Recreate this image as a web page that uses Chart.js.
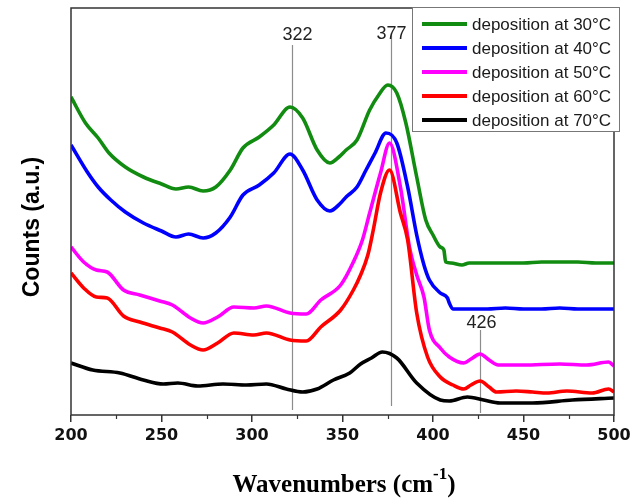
<!DOCTYPE html>
<html>
<head>
<meta charset="utf-8">
<script src="https://cdn.jsdelivr.net/npm/chart.js@4.4.1/dist/chart.umd.min.js"></script>
<style>
  html, body { margin: 0; padding: 0; background: #fff; }
  #wrap { width: 642px; height: 498px; }
</style>
</head>
<body>
<div id="wrap"><canvas id="spectra" width="642" height="498"></canvas></div>
<script>
// Raman spectra, counts in arbitrary units
const seriesLabels = ['deposition at 30°C', 'deposition at 40°C', 'deposition at 50°C', 'deposition at 60°C', 'deposition at 70°C'];

const greenX = [200,208,215,221,230,240,250,258,265,273,280,288,295,304,312,321,328,336,343,348,352,358,365,370,375,380,385,391,396,400,404,406,407,410,416,420,430,440,450,460,470,480,490,500];
const greenY = [318,292,277,262,248,238,231,226,228,224,228,245,267,278,290,308,297,265,252,258,265,275,305,320,330,322,292,238,195,180,168,165,153,152,150,152,152,152,152,153,153,153,152,152];

const blueX = [200,209,215,222,230,240,250,258,265,273,280,288,295,304,312,321,328,336,343,349,352,358,363,368,374,380,386,391,395,398,404,408,409,411,420,430,440,450,460,470,480,490,500];
const blueY = [270,243,228,215,203,192,184,178,181,177,182,198,220,230,242,261,245,215,204,212,218,228,245,262,282,272,228,180,150,135,122,117,112,106,106,106,107,106,106,107,106,106,106];

const magentaX = [200,207,214,220,229,238,249,256,266,273,281,290,301,308,321,330,338,349,356,361,365,371,376,382,387,391,395,398,404,409,417,421,426,431,436,450,470,485,497,500];
const magentaY = [168,153,145,143,125,120,114,110,97,92,98,108,107,109,102,101,115,130,153,175,202,242,272,228,168,140,118,85,67,58,52,56,61,55,50,50,51,50,53,49];

const redX = [200,207,214,220,229,238,249,256,266,273,281,290,301,308,321,330,338,349,356,360,364,367,371,376,382,386,391,397,404,411,417,421,426,431,435,446,455,463,474,488,497,500];
const redY = [142,127,118,117,99,93,87,83,70,65,72,82,80,82,75,74,88,105,125,140,160,185,222,245,202,175,102,58,38,30,26,30,34,28,23,24,23,22,24,22,26,23];

const blackX = [200,212,227,240,251,259,270,284,297,308,319,328,336,345,354,360,366,372,380,391,404,409,419,428,437,455,477,500];
const blackY = [52,45,42,35,31,32,29,31,30,31,26,23,26,35,42,51,57,63,57,32,15,14,18,15,12,12,15,17];

// marked peaks (cm-1) and the span of their guide lines in count units
const peakPos = [322, 377, 426];
const peakTop = [370, 382, 85];
const peakBottom = [5, 9, 2];
const peakLabelY = [380, 381, 92];

const xTicks = [200, 250, 300, 350, 400, 450, 500];
const xMinorTicks = [225, 275, 325, 375, 425, 475];

const lineColors = ['#118c11', '#0000ff', '#ff00ff', '#ff0000', '#000000'];

function toPoints(xs, ys) {
    return xs.map((x, i) => ({ x: x, y: ys[i] }));
}

const allX = [greenX, blueX, magentaX, redX, blackX];
const allY = [greenY, blueY, magentaY, redY, blackY];

const datasets = seriesLabels.map((label, i) => ({
    label: label,
    data: toPoints(allX[i], allY[i]),
    borderColor: lineColors[i],
    backgroundColor: lineColors[i],
    borderWidth: 3.6,
    pointRadius: 0,
    fill: false,
    cubicInterpolationMode: 'monotone',
    order: seriesLabels.length - i   // later series drawn on top
}));

const decorPlugin = {
    id: 'decor',
    beforeDatasetsDraw(chart) {
        const { ctx, scales: { x, y } } = chart;
        ctx.save();
        ctx.strokeStyle = '#8c8c8c';
        ctx.lineWidth = 1.2;
        ctx.fillStyle = '#222';
        ctx.font = '18px "Liberation Sans", Arial, sans-serif';
        ctx.textAlign = 'center';
        ctx.textBaseline = 'middle';
        const shift = [5, 0, 1];
        peakPos.forEach((p, i) => {
            const px = Math.round(x.getPixelForValue(p)) + 0.5;
            ctx.beginPath();
            ctx.moveTo(px, y.getPixelForValue(peakTop[i]));
            ctx.lineTo(px, y.getPixelForValue(peakBottom[i]));
            ctx.stroke();
            ctx.fillText(String(p), px + shift[i], y.getPixelForValue(peakLabelY[i]));
        });
        ctx.restore();
    },
    afterDraw(chart) {
        const { ctx, chartArea: a, scales: { x } } = chart;
        ctx.save();

        // frame round the plot
        ctx.strokeStyle = '#333';
        ctx.lineWidth = 1.5;
        ctx.strokeRect(a.left, a.top, a.right - a.left, a.bottom - a.top);

        // minor ticks
        ctx.lineWidth = 1.2;
        xMinorTicks.forEach(v => {
            const px = Math.round(x.getPixelForValue(v)) + 0.5;
            ctx.beginPath();
            ctx.moveTo(px, a.bottom);
            ctx.lineTo(px, a.bottom + 4);
            ctx.stroke();
        });

        // y title
        ctx.fillStyle = '#000';
        ctx.save();
        ctx.translate(33, 227);
        ctx.rotate(-Math.PI / 2);
        ctx.font = 'bold 23px "Liberation Sans", Arial, sans-serif';
        ctx.textAlign = 'center';
        ctx.textBaseline = 'middle';
        ctx.fillText('Counts (a.u.)', 0, 0);
        ctx.restore();

        // x title with superscript
        const mainFont = 'bold 25px "Liberation Serif", "Times New Roman", serif';
        const supFont = 'bold 17px "Liberation Serif", "Times New Roman", serif';
        ctx.textAlign = 'left';
        ctx.textBaseline = 'alphabetic';
        ctx.font = mainFont;
        const t1 = 'Wavenumbers (cm', t3 = ')';
        const w1 = ctx.measureText(t1).width, w3 = ctx.measureText(t3).width;
        ctx.font = supFont;
        const t2 = '-1';
        const w2 = ctx.measureText(t2).width;
        let sx = 344 - (w1 + w2 + w3) / 2;
        const base = 492;
        ctx.font = mainFont;
        ctx.fillText(t1, sx, base);
        ctx.font = supFont;
        ctx.fillText(t2, sx + w1, base - 13);
        ctx.font = mainFont;
        ctx.fillText(t3, sx + w1 + w2, base);

        // legend box
        ctx.fillStyle = '#fff';
        ctx.fillRect(412.5, 7.5, 207, 124);
        ctx.strokeStyle = '#777';
        ctx.lineWidth = 1;
        ctx.strokeRect(412.5, 7.5, 207, 124);
        ctx.font = '17px "Liberation Sans", Arial, sans-serif';
        ctx.textBaseline = 'middle';
        chart.data.datasets.forEach((ds, i) => {
            const ry = 24 + i * 24;
            ctx.strokeStyle = ds.borderColor;
            ctx.lineWidth = 4;
            ctx.beginPath();
            ctx.moveTo(422, ry);
            ctx.lineTo(467, ry);
            ctx.stroke();
            ctx.fillStyle = '#1a1a1a';
            ctx.fillText(ds.label, 472, ry + 1);
        });
        ctx.restore();
    }
};

const chart = new Chart(document.getElementById('spectra').getContext('2d'), {
    type: 'line',
    data: { datasets: datasets },
    options: {
        responsive: false,
        animation: false,
        devicePixelRatio: 1,
        events: [],
        layout: { padding: { top: 8, right: 28, left: 0, bottom: 0 } },
        plugins: {
            legend: { display: false },
            tooltip: { enabled: false }
        },
        scales: {
            x: {
                type: 'linear',
                min: 200,
                max: 500,
                afterFit: s => { s.height = 83; },
                afterBuildTicks: s => { s.ticks = xTicks.map(v => ({ value: v })); },
                border: { display: false },
                grid: {
                    display: true,
                    drawOnChartArea: false,
                    drawTicks: true,
                    tickLength: 7,
                    color: '#333',
                    lineWidth: 1.5
                },
                ticks: {
                    padding: 4,
                    color: '#111',
                    maxRotation: 0,
                    font: { family: '"DejaVu Sans", Verdana, sans-serif', size: 16, weight: 'bold' }
                }
            },
            y: {
                min: 0,
                max: 407,
                afterFit: s => { s.width = 71; },
                border: { display: false },
                grid: { display: false },
                ticks: { display: false }
            }
        }
    },
    plugins: [decorPlugin]
});
</script>
</body>
</html>
